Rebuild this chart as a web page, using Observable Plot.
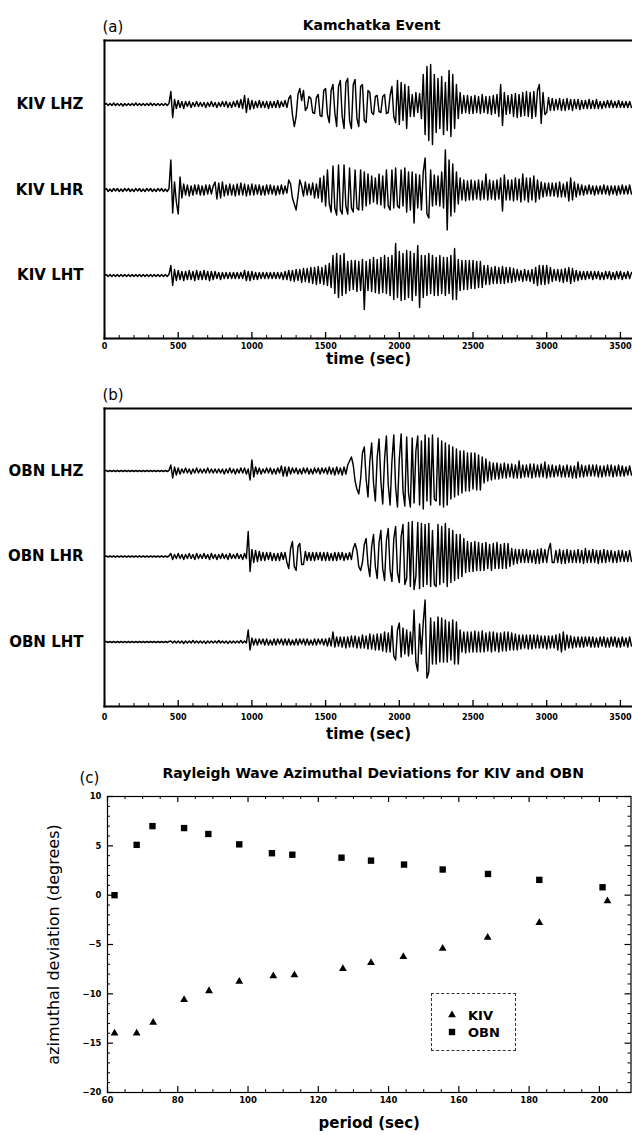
<!DOCTYPE html>
<html><head><meta charset="utf-8">
<script src="https://cdn.jsdelivr.net/npm/d3@7"></script>
<script src="https://cdn.jsdelivr.net/npm/@observablehq/plot@0.6"></script>
<style>
html,body{margin:0;padding:0;background:#fff;}
#wrap{position:relative;width:632px;height:1135px;overflow:hidden;background:#fff;font-family:"DejaVu Sans",sans-serif;}
</style></head>
<body><div id="wrap"></div>
<script>
// ---------- data ----------
const DT = 12.5;
const kivNames = ["KIV LHZ", "KIV LHR", "KIV LHT"];
const obnNames = ["OBN LHZ", "OBN LHR", "OBN LHT"];

const kivLHZ = [
 0,1,-1,1,-1,1.5,-1,1,-1,1,-1.5,1,-1,1,-1,1,-1,1.5,-1,1,
 -1,1,-1,1,-1,1.5,-1,1,-1,1,-1,1,-1,1,-1,1,13,-13,5,-4,
 4,-3,3,-4,3,-2,3,-3,2,-2,3,-2,2,-2,2,-3,2,-2,3,-2,
 2,-3,2,-2,3,-2,3,-3,2,-3,3,-2,4,-3,5,-4,9,-8,6,-5,
 4,-4,3,-3,4,-3,3,-3,3,-4,3,-3,3,-3,4,-3,3,-2,4,-3,
 6,9,-10,-22,-12,10,16,4,14,-6,-3,8,6,-8,-9,7,10,-11,-12,14,
 16,-10,-18,14,20,-8,-22,18,24,-12,-24,22,26,-16,-24,20,25,-14,-22,18,
 20,-16,-18,14,12,-8,-10,8,9,-7,-8,8,10,-9,-8,9,18,-12,-18,24,
 -20,22,-16,20,-24,18,-12,10,-12,12,-8,11,-14,30,-30,38,-36,40,-40,30,
 -28,26,-24,28,-30,22,-26,34,-32,30,-24,20,-14,12,-9,9,-8,9,-9,8,
 -9,9,-8,8,-9,10,-8,8,-9,8,-10,9,-9,10,-12,20,-21,12,-10,9,
 -9,10,-12,11,-13,10,-12,12,-11,13,-12,12,-14,13,-12,14,20,-19,12,-10,
 -8,7,-6,6,-6,5,-5,6,-6,5,-6,6,-5,5,-6,5,-4,5,-5,4,
 -4,4,-4,5,-4,4,-4,5,-4,3,-4,3,-3,4,-3,4,-3,3,-3,4,
 -3,3,-3,3,-3,3,-3];
const kivLHR = [
 0,1.5,-1.5,1,-1.5,1.5,-1,1.5,-1.5,1,-1.5,1.5,-1,1.5,-1.5,1,-1.5,1.5,-1,1.5,
 -1.5,1,-1.5,1.5,-1,1.5,-1.5,1,-1.5,1.5,-1,1.5,-1.5,1,-1.5,1.5,30,-23,8,-12,
 -24,13,-8,6,-5,5,-6,4,-5,5,-4,5,-5,4,-5,5,-4,5,-4,4,
 8,-9,7,-8,8,-6,5,-5,6,-5,5,-6,6,-5,7,-5,6,-6,5,-5,
 6,-5,5,-4,5,-5,4,-5,5,-4,5,-4,4,-5,4,-4,5,-4,4,-3,
 10,6,-8,-14,-20,-6,10,4,-6,8,-5,6,-5,7,-8,6,-8,12,-12,14,
 -16,20,-14,-22,24,-18,-25,25,-20,-24,25,-16,-24,22,-18,-22,20,-18,-20,20,
 -20,18,-16,16,-14,14,-12,12,-14,16,-15,14,-18,20,-16,-20,20,-18,22,-16,
 -18,20,-16,22,-22,18,-20,18,-33,16,-18,15,-20,18,32,-24,-28,20,-16,15,
 -15,14,-16,18,-18,40,-40,30,-26,26,-22,18,-14,12,-10,10,-11,9,-10,10,
 -10,9,-9,10,-10,9,-9,16,-10,10,-9,9,-10,10,-9,12,-21,15,-10,10,
 -10,10,-11,12,-10,11,-12,16,-10,12,-12,12,-10,14,-12,10,-9,8,-7,7,
 -6,7,-6,7,-6,7,-7,8,-7,6,-7,8,-11,12,-10,8,-7,6,-5,5,
 -5,4,-4,5,-4,4,-5,4,-4,4,-4,5,-4,4,-5,4,-4,4,-5,4,
 -4,5,-4,4,-4,5,-4];
const kivLHT = [
 0,1,-1,1,-1,1,-1,1,-1,1,-1,1,-1,1,-1,1,-1,1,-1,1,
 -1,1,-1,1,-1,1,-1,1,-1,1,-1,1,-1,1,-1,1,10,-10,6,-5,
 5,-4,4,-5,4,-4,5,-4,4,-5,5,-4,4,-4,5,-4,4,-5,4,-4,
 4,-3,3,-4,3,-3,3,-3,3,-3,3,-3,3,-3,3,-3,5,-5,4,-5,
 4,-4,3,-4,3,-3,3,-3,3,-3,3,-3,3,-3,3,-3,3,-4,4,-4,
 5,-5,5,-6,6,-5,6,-7,7,-6,7,-7,8,-8,8,-9,9,-8,8,-9,
 10,-10,12,-12,20,-18,22,-22,20,-20,22,-18,14,-15,15,-14,15,-16,14,-15,
 16,-34,14,-15,16,-16,18,-17,16,-18,18,-17,20,-18,18,-20,20,-24,32,-22,
 24,-25,22,-24,25,-22,24,-25,22,-20,30,-32,20,-22,20,-20,22,-18,20,-20,
 18,-20,20,-18,18,-20,18,-18,20,-24,27,-24,16,-15,15,-14,15,-14,15,-13,
 15,-13,14,-12,14,-12,10,-9,10,-9,8,-8,9,-8,8,-8,9,-8,8,-7,
 8,-7,7,-6,6,-5,5,-6,6,-5,5,-6,6,-8,8,-10,10,-9,10,-9,
 10,-8,8,-6,6,-5,6,-6,6,-7,7,-6,8,-8,7,-6,5,-5,4,-4,
 4,-4,4,-3,4,-4,4,-3,4,-4,3,-4,4,-3,4,-4,3,-4,4,-3,
 4,-4,3,-3,4,-3,3];
const obnLHZ = [
 0,.5,-.5,.5,-.5,.5,-.5,.5,-.5,.5,-.5,.5,-.5,.5,-.5,.5,-.5,.5,-.5,.5,
 -.5,.5,-.5,.5,-.5,.5,-.5,.5,-.5,.5,-.5,.5,-.5,.5,-.5,.5,6,-7,4,-4,
 3,-3,2,-2,3,-2,2,-3,2,-2,3,-2,2,-2,2,-2,3,-2,2,-2,
 2,-2,2,-2,2,-3,2,-2,3,-2,2,-3,2,-2,3,-2,3,-3,2,-9,
 11,-6,4,-3,3,-3,2,-2,3,-2,3,-3,2,-3,3,-2,5,-5,4,-5,
 4,-3,3,-2,3,-3,2,-3,3,-2,3,-3,2,-3,3,-2,3,-3,3,-2,
 3,-3,4,-3,3,-4,4,-3,3,-4,4,-3,6,10,14,6,-10,-18,-23,-8,
 18,24,-8,-26,10,28,-12,-30,14,32,-10,-33,12,35,-14,-34,10,36,-16,-36,
 12,37,-20,-35,34,-22,-36,33,-32,20,35,-34,30,-38,36,-30,33,-34,36,-28,
 -30,33,-34,30,-36,28,-34,26,-28,24,-26,22,-24,20,-22,20,-20,18,-20,18,
 -18,18,-19,16,-19,14,-12,12,-10,9,-9,8,-8,8,-8,7,-7,8,-7,7,
 -6,7,-7,6,-7,10,-7,6,-6,6,-6,7,-7,7,-6,6,-6,7,-6,9,
 -7,6,-6,6,-6,5,-5,6,-6,5,-6,6,-6,5,-7,5,-7,9,-6,6,
 -6,5,-5,6,-5,6,-5,6,-6,5,-6,5,-5,6,-5,6,-6,5,-5,6,
 -5,5,-5,4,-4,5,-4];
const obnLHR = [
 0,.5,-.5,.5,-.5,.5,-.5,.5,-.5,.5,-.5,.5,-.5,.5,-.5,.5,-.5,.5,-.5,.5,
 -.5,.5,-.5,.5,-.5,.5,-.5,.5,-.5,.5,-.5,.5,-.5,.5,-.5,.5,3,-3,2,-2,
 3,-2,2,-3,2,-2,3,-2,2,-3,3,-2,2,-2,3,-2,2,-3,3,-2,
 2,-3,2,-2,3,-2,2,-3,3,-2,2,-2,3,-2,2,-3,3,-2,25,-15,
 7,-6,6,-5,5,-4,4,-4,4,-3,4,-4,3,-4,3,-4,4,-3,4,-6,
 -12,8,15,-10,-14,10,13,-8,-8,5,-4,4,-4,4,-4,4,-3,4,-4,4,
 -4,4,-4,3,-4,4,-4,4,-3,4,-4,3,-3,4,-3,8,13,6,-10,-14,
 -6,12,18,-8,-20,10,22,-10,-22,14,26,-12,-24,16,28,-14,-25,18,30,-16,
 -26,20,32,-28,-22,34,-30,35,-33,-20,34,-32,33,-30,32,-28,33,-30,26,-28,
 -30,32,-28,30,-26,33,-30,28,-26,26,-24,22,-22,22,-20,18,-16,15,-15,14,
 -15,15,-14,14,-14,13,-14,14,-12,12,-14,13,-12,14,-12,12,-12,13,-12,13,
 -10,8,-8,7,-7,7,-6,7,-6,7,-6,6,-6,6,-7,7,-7,8,-6,7,
 -6,7,13,-6,-6,6,-6,7,-7,6,-7,7,-6,6,-6,6,-6,7,-6,6,
 -7,8,-6,6,-6,7,-6,6,-7,6,-6,7,-6,6,-5,6,-6,5,-6,6,
 -5,6,-5,5,-5,6,-5];
const obnLHT = [
 0,.5,-.5,.5,-.5,.5,-.5,.5,-.5,.5,-.5,.5,-.5,.5,-.5,.5,-.5,.5,-.5,.5,
 -.5,.5,-.5,.5,-.5,.5,-.5,.5,-.5,.5,-.5,.5,-.5,.5,-.5,.5,1,-1,1,-1,
 1,-1,1,-1.5,1,-1,1,-1,1.5,-1,1,-1,1,-1,1,-1.5,1,-1,1,-1,
 1,-1,1.5,-1,1,-1,1,-1.5,1,-1,1,-1,1,-1,1.5,-1,1,-1,12,-8,
 4,-3,3,-3,3,-2,3,-3,3,-3,2,-3,3,-3,3,-2,3,-3,3,-3,
 3,-3,2,-3,3,-3,3,-2,3,-3,3,-3,2,-3,3,-3,3,-2,3,-3,
 3,-4,4,-4,10,-5,5,-4,5,-5,5,-6,5,-5,6,-5,6,-6,5,-6,
 7,-6,6,-7,8,-7,7,-8,8,-8,8,-9,10,-10,9,-10,16,-14,-18,12,
 19,-15,14,-12,12,-14,10,-12,32,-20,-29,18,-12,20,42,-36,-30,24,-22,20,
 -22,25,-20,24,-20,22,-20,20,-18,22,-22,20,-22,12,-10,10,-11,10,-10,10,
 -10,11,-10,10,-10,11,-10,9,-9,10,-10,10,-9,9,-10,9,-9,10,-9,10,
 -8,9,-8,8,-8,7,-7,7,-6,7,-7,7,-7,7,-6,7,-6,6,-6,6,
 -7,6,-6,6,-6,7,-8,8,-10,10,-8,7,-6,6,-6,5,-5,5,-5,5,
 -5,5,-4,5,-5,5,-5,4,-5,5,-4,5,-5,4,-5,5,-4,5,-5,4,
 -5,5,-4,4,-5,5,-4];

const timeTicks = [0, 500, 1000, 1500, 2000, 2500, 3000, 3500];

// panel (c)
const obnPeriod = [62, 68.3, 72.8, 81.8, 88.7, 97.5, 106.8, 112.6, 126.6, 135, 144.4, 155.4, 168.3, 182.9, 200.9];
const obnDev    = [0, 5.1, 7.0, 6.8, 6.2, 5.15, 4.25, 4.1, 3.8, 3.5, 3.1, 2.6, 2.15, 1.55, 0.8];
const kivPeriod = [62, 68.3, 73, 81.8, 88.9, 97.5, 107.2, 113.2, 127, 135, 144.2, 155.4, 168.2, 182.9, 202.3];
const kivDev    = [-14.0, -14.0, -12.9, -10.6, -9.7, -8.75, -8.2, -8.1, -7.45, -6.85, -6.25, -5.4, -4.3, -2.8, -0.6];
const periodTicks = [60, 80, 100, 120, 140, 160, 180, 200];
const devTicks = [-20, -15, -10, -5, 0, 5, 10];
const legendLabels = ["KIV", "OBN"];

// ---------- drawing ----------
const wrap = document.getElementById("wrap");
function place(node, top) {
  node.style.position = "absolute";
  node.style.left = "0px";
  node.style.top = top + "px";
  wrap.appendChild(node);
}
const FONT = "DejaVu Sans";
const GAP = 85.5;

function seismoPanel({names, traces, height, mTop, mBottom, yTop, yBottom, tag, title, tickPad, labelDy}) {
  const plotH = height - mTop - mBottom;
  const offsets = [GAP, 0, -GAP];
  const nameAt = new Map(offsets.map((o, k) => [o, names[k]]));
  const rows = traces.flatMap((vals, k) => vals.map((v, i) => ({t: i * DT, a: offsets[k] + v, name: names[k]})));
  const minor = d3.range(100, 3600, 100).filter(d => d % 500 !== 0);
  const marks = [
    Plot.line(rows, {x: "t", y: "a", z: "name", stroke: "#000", strokeWidth: 1.45}),
    Plot.ruleX(minor, {stroke: "#000", strokeWidth: 1, insetTop: plotH - 3}),
    Plot.ruleX(timeTicks, {stroke: "#000", strokeWidth: 1.3, insetTop: plotH - 6}),
    Plot.frame({anchor: "top", strokeWidth: 2}),
    Plot.frame({anchor: "left", strokeWidth: 2}),
    Plot.frame({anchor: "bottom", strokeWidth: 2}),
    Plot.axisX({ticks: timeTicks, tickSize: 0, tickPadding: tickPad, fontSize: 8, fontWeight: "bold",
                tickFormat: d => String(d), label: null}),
    Plot.axisY({ticks: offsets, tickSize: 0, tickPadding: 21, fontSize: 15, fontWeight: "bold",
                tickFormat: d => nameAt.get(d), label: null}),
    Plot.text(["time (sec)"], {frameAnchor: "bottom", dy: labelDy, fontSize: 15, fontWeight: "bold"}),
    Plot.text([tag], {frameAnchor: "top-left", textAnchor: "start", dy: -19, dx: -2, fontSize: 15})
  ];
  if (title) marks.push(Plot.text([title], {frameAnchor: "top", dy: -20, dx: 3, fontSize: 14, fontWeight: "bold"}));
  return Plot.plot({
    width: 632, height, marginLeft: 104, marginRight: 0, marginTop: mTop, marginBottom: mBottom,
    style: {fontFamily: FONT, background: "transparent", overflow: "visible"},
    x: {domain: [0, 3582]}, y: {domain: [yBottom, yTop]},
    marks
  });
}

place(seismoPanel({names: kivNames, traces: [kivLHZ, kivLHR, kivLHT], height: 370, mTop: 40, mBottom: 32,
  yTop: 149.5, yBottom: -148.5, tag: "(a)", title: "Kamchatka Event", tickPad: 5, labelDy: 25}), 0);

place(seismoPanel({names: obnNames, traces: [obnLHZ, obnLHR, obnLHT], height: 380, mTop: 38, mBottom: 44,
  yTop: 148, yBottom: -150, tag: "(b)", title: null, tickPad: 8, labelDy: 32}), 370);

// panel (c)
{
  const H = 385, mT = 46, mB = 43, mL = 107, mR = 1.5;
  const plotH = H - mT - mB, plotW = 632 - mL - mR;
  const obn = obnPeriod.map((p, i) => ({p, d: obnDev[i]}));
  const kiv = kivPeriod.map((p, i) => ({p, d: kivDev[i]}));
  const pMinor = d3.range(60, 210, 5).filter(d => d % 20 !== 0);
  const dMinor = d3.range(-19, 10, 1).filter(d => d % 5 !== 0);
  const fmt = d => d < 0 ? "\u2212" + (-d) : String(d);
  const svg = Plot.plot({
    width: 632, height: H, marginLeft: mL, marginRight: mR, marginTop: mT, marginBottom: mB,
    style: {fontFamily: FONT, background: "transparent", overflow: "visible"},
    x: {domain: [60, 209]}, y: {domain: [-20, 10]},
    marks: [
      Plot.frame({strokeWidth: 1.2}),
      Plot.ruleX(pMinor, {stroke: "#000", insetTop: plotH - 3}),
      Plot.ruleX(periodTicks, {stroke: "#000", strokeWidth: 1.2, insetTop: plotH - 6}),
      Plot.ruleX(pMinor, {stroke: "#000", insetBottom: plotH - 3}),
      Plot.ruleX(periodTicks, {stroke: "#000", strokeWidth: 1.2, insetBottom: plotH - 6}),
      Plot.ruleY(dMinor, {stroke: "#000", insetRight: plotW - 3}),
      Plot.ruleY(devTicks, {stroke: "#000", strokeWidth: 1.2, insetRight: plotW - 6}),
      Plot.ruleY(dMinor, {stroke: "#000", insetLeft: plotW - 3}),
      Plot.ruleY(devTicks, {stroke: "#000", strokeWidth: 1.2, insetLeft: plotW - 6}),
      Plot.axisX({ticks: periodTicks, tickSize: 0, tickPadding: 4, fontSize: 8.5, fontWeight: "bold",
                  tickFormat: d => String(d), label: null}),
      Plot.axisY({ticks: devTicks, tickSize: 0, tickPadding: 6, fontSize: 8.5, fontWeight: "bold",
                  tickFormat: fmt, label: null}),
      Plot.dot(obn, {x: "p", y: "d", symbol: "square", r: 3.6, fill: "#000"}),
      Plot.dot(kiv, {x: "p", y: "d", symbol: "triangle", r: 2.9, fill: "#000"}),
      Plot.text(["Rayleigh Wave Azimuthal Deviations for KIV and OBN"], {frameAnchor: "top", dy: -28, dx: 4, fontSize: 14, fontWeight: "bold"}),
      Plot.text(["(c)"], {frameAnchor: "top-left", textAnchor: "start", dx: -28, dy: -24, fontSize: 15}),
      Plot.text(["azimuthal deviation (degrees)"], {frameAnchor: "left", textAnchor: "middle", dx: -54, rotate: -90, fontSize: 16}),
      Plot.text(["period (sec)"], {frameAnchor: "bottom", dy: 35, fontSize: 15, fontWeight: "bold"})
    ]
  });
  place(svg, 750);

  // legend box
  const lg = document.createElement("div");
  lg.style.cssText = "position:absolute;left:431px;top:993px;width:83px;height:56px;border:1px dashed #333;background:#fff;";
  const ns = "http://www.w3.org/2000/svg";
  const ls = document.createElementNS(ns, "svg");
  ls.setAttribute("width", "83"); ls.setAttribute("height", "56");
  const sym = [d3.symbol(d3.symbolTriangle, Math.PI * 2.9 * 2.9)(), d3.symbol(d3.symbolSquare, Math.PI * 3.6 * 3.6)()];
  legendLabels.forEach((lab, i) => {
    const y = 21 + i * 17;
    const p = document.createElementNS(ns, "path");
    p.setAttribute("d", sym[i]); p.setAttribute("transform", `translate(20,${y})`); p.setAttribute("fill", "#000");
    ls.appendChild(p);
    const t = document.createElementNS(ns, "text");
    t.setAttribute("x", 36); t.setAttribute("y", y); t.setAttribute("dy", "0.35em");
    t.setAttribute("font-family", FONT); t.setAttribute("font-weight", "bold"); t.setAttribute("font-size", "13");
    t.textContent = lab;
    ls.appendChild(t);
  });
  lg.appendChild(ls);
  wrap.appendChild(lg);
}
</script>
</body></html>
